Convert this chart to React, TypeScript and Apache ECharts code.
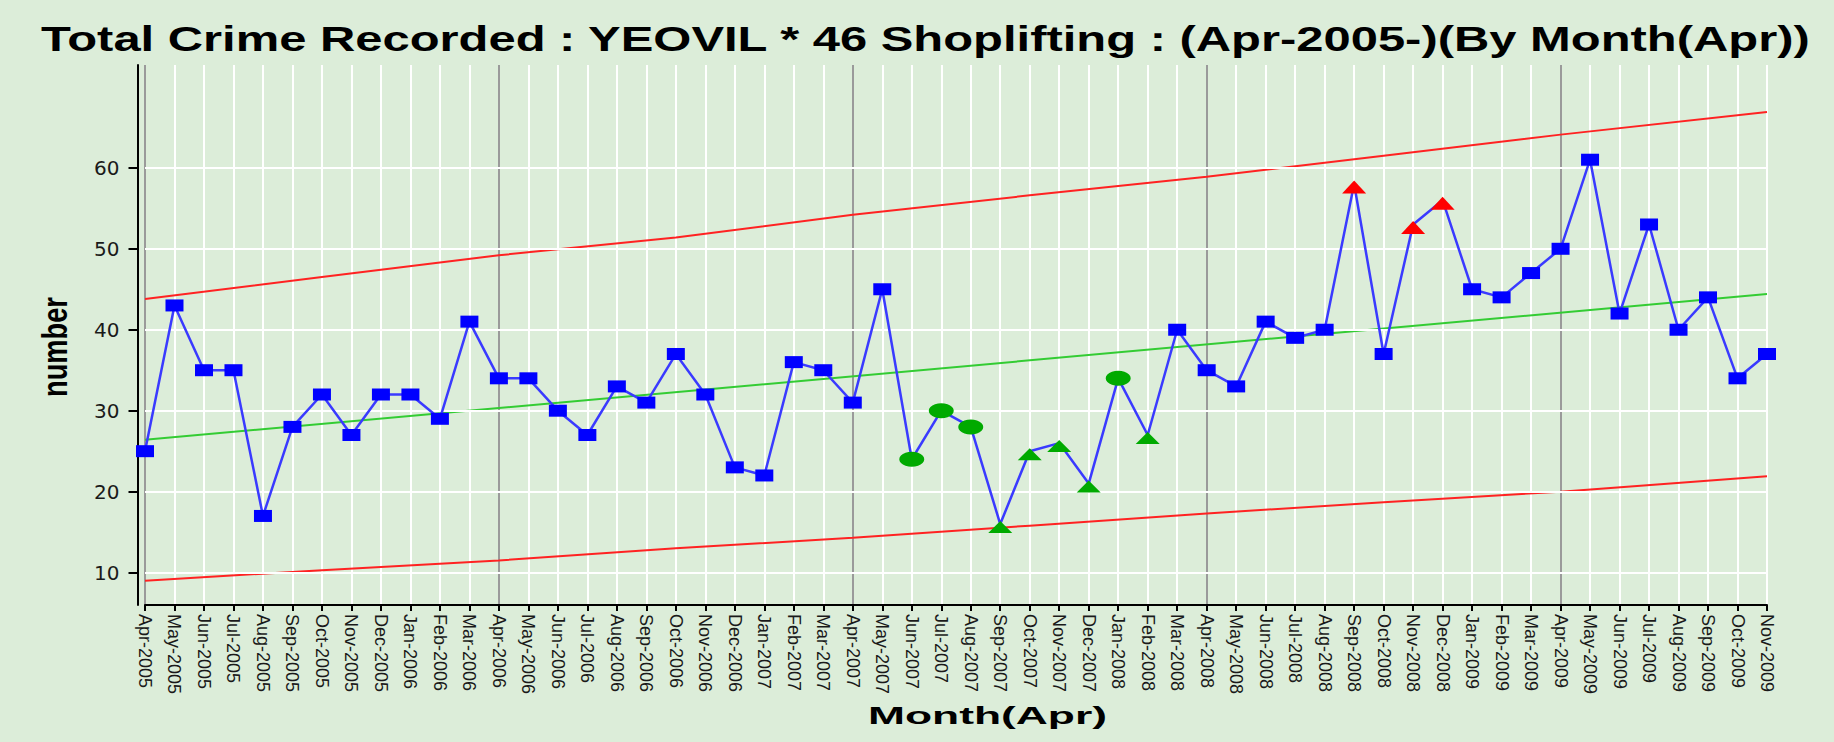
import React, { useEffect, useRef } from "react";
import * as echarts from "echarts";

const chartTitle =
  "Total Crime Recorded : YEOVIL * 46 Shoplifting : (Apr-2005-)(By Month(Apr))";
const xAxisTitle = "Month(Apr)";
const yAxisTitle = "number";

const months = [
  "Apr-2005", "May-2005", "Jun-2005", "Jul-2005", "Aug-2005", "Sep-2005", "Oct-2005", "Nov-2005", "Dec-2005", "Jan-2006", "Feb-2006", "Mar-2006",
  "Apr-2006", "May-2006", "Jun-2006", "Jul-2006", "Aug-2006", "Sep-2006", "Oct-2006", "Nov-2006", "Dec-2006", "Jan-2007", "Feb-2007", "Mar-2007",
  "Apr-2007", "May-2007", "Jun-2007", "Jul-2007", "Aug-2007", "Sep-2007", "Oct-2007", "Nov-2007", "Dec-2007", "Jan-2008", "Feb-2008", "Mar-2008",
  "Apr-2008", "May-2008", "Jun-2008", "Jul-2008", "Aug-2008", "Sep-2008", "Oct-2008", "Nov-2008", "Dec-2008", "Jan-2009", "Feb-2009", "Mar-2009",
  "Apr-2009", "May-2009", "Jun-2009", "Jul-2009", "Aug-2009", "Sep-2009", "Oct-2009", "Nov-2009",
];

const shoplifting = [
  25, 43, 35, 35, 17, 28, 32, 27, 32, 32, 29, 41,
  34, 34, 30, 27, 33, 31, 37, 32, 23, 22, 36, 35,
  31, 45, 24, 30, 28, 16, 25, 26, 21, 34, 27, 40,
  35, 33, 41, 39, 40, 58, 37, 53, 56, 45, 44, 47,
  50, 61, 42, 53, 40, 44, 34, 37,
];

// indices of flagged months
const greenCircleIdx = [26, 27, 28, 33];
const greenTriangleIdx = [29, 30, 31, 32, 34];
const redTriangleIdx = [41, 43, 44];

// [category index, value] readings of the trend and limit lines
const trendLine = [
  [0, 26.4],
  [55, 44.4],
];
const upperLimit = [
  [0, 43.8], [6, 46.5], [12, 49.2], [18, 51.4], [24, 54.2],
  [30, 56.6], [36, 58.9], [42, 61.5], [48, 64.1], [55, 66.9],
];
const lowerLimit = [
  [0, 9.0], [6, 10.3], [12, 11.5], [18, 13.0], [24, 14.3],
  [30, 15.8], [36, 17.3], [42, 18.7], [48, 20.0], [55, 21.9],
];

const yTicks = [10, 20, 30, 40, 50, 60];
const yMin = 6;
const yMax = 72.7;

function measure(text: string, font: string): number {
  const c = document.createElement("canvas");
  const ctx = c.getContext("2d");
  if (!ctx) return text.length * 10;
  ctx.font = font;
  return ctx.measureText(text).width;
}

export default function App() {
  const ref = useRef<HTMLDivElement>(null);

  useEffect(() => {
    if (!ref.current) return;
    const chart = echarts.init(ref.current, undefined, { renderer: "svg" });

    const pointData = shoplifting.map((v, i) => {
      if (greenCircleIdx.includes(i)) {
        return { value: v, symbol: "circle", symbolSize: [25, 15], itemStyle: { color: "#00aa00" } };
      }
      if (greenTriangleIdx.includes(i)) {
        return { value: v, symbol: "triangle", symbolSize: [24, 12], symbolOffset: [0, 3], itemStyle: { color: "#00aa00" } };
      }
      if (redTriangleIdx.includes(i)) {
        return { value: v, symbol: "triangle", symbolSize: [24, 13], symbolOffset: [0, 3], itemStyle: { color: "#ff0000" } };
      }
      return { value: v };
    });

    const splitColors = ["#9a9a9a"].concat(new Array(11).fill("#ffffff"));

    const titleFont = "bold 35px 'Liberation Sans'";
    const titleScale = 1772 / measure(chartTitle, titleFont);
    const xNameFont = "bold 24px 'Liberation Sans'";
    const xNameScale = 239 / measure(xAxisTitle, xNameFont);
    const yNameFont = "bold 27px 'Liberation Sans'";
    const yNameScale = 100 / measure(yAxisTitle, yNameFont);

    chart.setOption({
      animation: false,
      backgroundColor: "#dcedd9",
      graphic: [
        {
          type: "text",
          x: 41,
          y: 21,
          scaleX: titleScale,
          silent: true,
          style: {
            text: chartTitle,
            fontFamily: "Liberation Sans",
            fontWeight: "bold",
            fontSize: 35,
            fill: "#000",
            textAlign: "left",
            textVerticalAlign: "top",
          },
        },
        {
          type: "text",
          x: 868,
          y: 704,
          scaleX: xNameScale,
          silent: true,
          style: {
            text: xAxisTitle,
            fontFamily: "Liberation Sans",
            fontWeight: "bold",
            fontSize: 24,
            fill: "#000",
            textAlign: "left",
            textVerticalAlign: "top",
          },
        },
        {
          type: "text",
          x: 55,
          y: 347,
          rotation: Math.PI / 2,
          scaleX: yNameScale,
          scaleY: 1.3,
          silent: true,
          style: {
            text: yAxisTitle,
            fontFamily: "Liberation Sans",
            fontWeight: "bold",
            fontSize: 27,
            fill: "#000",
            textAlign: "center",
            textVerticalAlign: "middle",
          },
        },
      ],
      grid: { left: 145, right: 67, top: 65, bottom: 137, containLabel: false },
      xAxis: {
        type: "category",
        data: months,
        boundaryGap: false,
        axisLine: { show: true, onZero: false, lineStyle: { color: "#000", width: 2 } },
        axisTick: { show: true, interval: 0, length: 6, lineStyle: { color: "#000", width: 2 } },
        axisLabel: {
          interval: 0,
          rotate: -90,
          margin: 9,
          fontFamily: "Liberation Sans",
          fontSize: 18,
          color: "#1a1a1a",
        },
        splitLine: { show: true, interval: 0, lineStyle: { color: splitColors, width: 2 } },
      },
      yAxis: {
        type: "value",
        min: yMin,
        max: yMax,
        offset: 7.5,
        axisLine: { show: true, lineStyle: { color: "#000", width: 2 } },
        axisTick: { show: true, customValues: yTicks, length: 9, lineStyle: { color: "#000", width: 2 } },
        axisLabel: {
          customValues: yTicks,
          margin: 18,
          fontFamily: "DejaVu Sans",
          fontSize: 20,
          color: "#1a1a1a",
        },
        splitLine: { show: false },
      },
      series: [
        {
          name: "grid",
          type: "line",
          data: [],
          z: 1,
          silent: true,
          markLine: {
            silent: true,
            symbol: "none",
            label: { show: false },
            lineStyle: { color: "#ffffff", width: 2, type: "solid" },
            data: yTicks.map((v) => ({ yAxis: v })),
          },
        },
        {
          name: "upper",
          type: "line",
          data: upperLimit,
          symbol: "none",
          lineStyle: { color: "#ff2222", width: 2 },
          z: 3,
        },
        {
          name: "lower",
          type: "line",
          data: lowerLimit,
          symbol: "none",
          lineStyle: { color: "#ff2222", width: 2 },
          z: 3,
        },
        {
          name: "trend",
          type: "line",
          data: trendLine,
          symbol: "none",
          lineStyle: { color: "#33cc33", width: 2 },
          z: 3,
        },
        {
          name: "Shoplifting",
          type: "line",
          data: pointData,
          symbol: "rect",
          symbolSize: [18, 12],
          showAllSymbol: true,
          itemStyle: { color: "#0000ff" },
          lineStyle: { color: "#3a3aff", width: 2.5 },
          z: 5,
        },
      ],
    });

    return () => chart.dispose();
  }, []);

  return (
    <div
      ref={ref}
      style={{ position: "fixed", left: 0, top: 0, width: 1834, height: 742 }}
    />
  );
}
